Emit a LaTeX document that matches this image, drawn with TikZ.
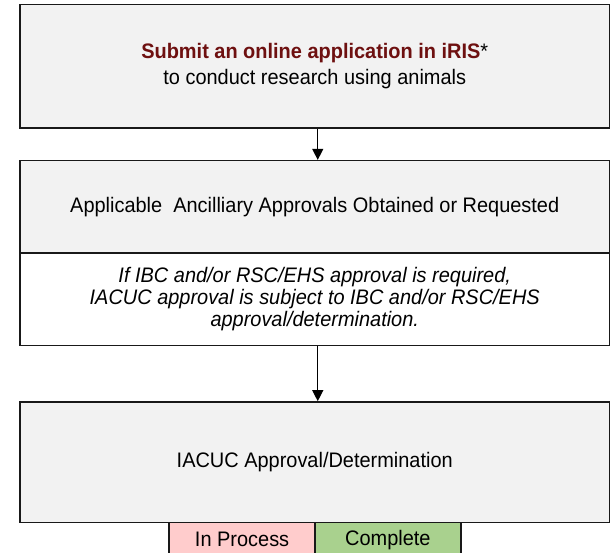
\documentclass[tikz,border=0pt]{standalone}
\usepackage{fontspec}
\setmainfont{Liberation Sans}[FakeStretch=0.95]
\usetikzlibrary{arrows.meta}
\definecolor{boxgray}{RGB}{242,242,242}
\definecolor{maroontext}{RGB}{110,16,16}
\definecolor{pinkfill}{RGB}{255,204,204}
\definecolor{greenfill}{RGB}{169,209,142}
\begin{document}
\begin{tikzpicture}[x=1pt,y=1pt,
  box/.style={draw=black!90, line width=1.6pt, fill=boxgray, minimum width=589.5pt,
    inner sep=0pt, align=center, font=\fontsize{21}{26}\selectfont},
  whitebox/.style={box, fill=white},
  tag/.style={draw=black!90, line width=1.6pt, minimum width=145.8pt, minimum height=34pt,
    inner sep=0pt, font=\fontsize{21}{24}\selectfont},
  flow/.style={line width=1.2pt, draw=black, -{Triangle[length=11pt,width=11pt]}}]
\useasboundingbox (0,0) rectangle (614,553);
\node[box, minimum height=123.5pt] (b1) at (314.75,486.75)
  {{\bfseries\color{maroontext}Submit an online application in iRIS}*\\to conduct research using animals};
\node[box, minimum height=92.3pt] (b2) at (314.75,346.15)
  {Applicable\ \ Ancilliary Approvals Obtained or Requested};
\node[whitebox, minimum height=92.5pt, font=\fontsize{21}{22}\selectfont\itshape] (b2n) at (314.75,253.75)
  {If IBC and/or RSC/EHS approval is required,\\IACUC approval is subject to IBC and/or RSC/EHS\\approval/determination.};
\node[box, minimum height=120.7pt] (b3) at (314.75,90.65)
  {IACUC Approval/Determination};
\node[tag, fill=pinkfill] (t1) at (242.1,13.3) {In Process};
\node[tag, fill=greenfill] (t2) at (387.9,13.3) {Complete};
\draw[flow] ([xshift=3pt]b1.south) -- ([xshift=3pt]b2.north);
\draw[flow] ([xshift=3pt]b2n.south) -- ([xshift=3pt]b3.north);
\end{tikzpicture}
\end{document}
